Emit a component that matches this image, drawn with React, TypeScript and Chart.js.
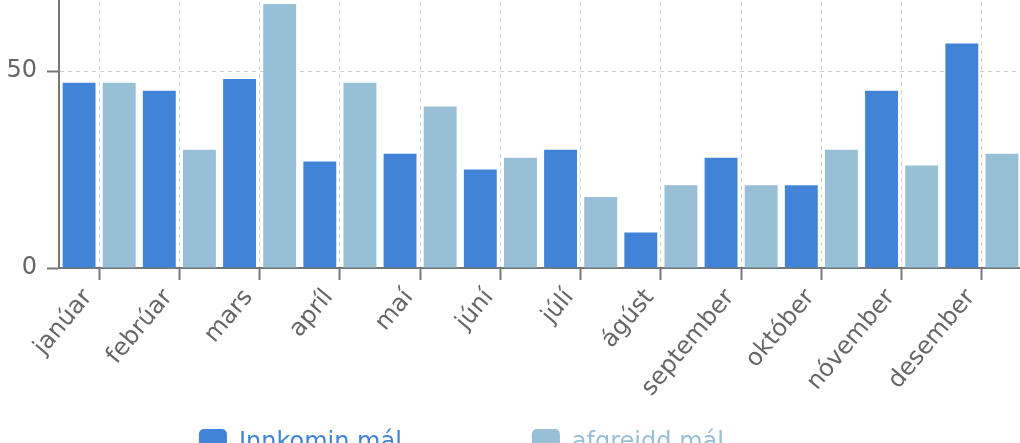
import React, { useEffect, useRef } from "react";
import { Chart, registerables } from "chart.js";

Chart.register(...registerables);

const months = [
  "janúar", "febrúar", "mars", "apríl", "maí", "júní",
  "júlí", "ágúst", "september", "október", "nóvember", "desember",
];
const incoming = [47, 45, 48, 27, 29, 25, 30, 9, 28, 21, 45, 57];
const resolved = [47, 30, 67, 47, 41, 28, 18, 21, 21, 30, 26, 29];
const seriesNames = ["Innkomin mál", "afgreidd mál"];
const seriesColors = ["#4183d7", "#97bfd6"];
const yMin = 0;
const yMax = 100;
const yStep = 50;

const FONT = "'DejaVu Sans', sans-serif";
const CANVAS_W = 1030;
const CANVAS_H = 623;
const CANVAS_TOP = -156;
const legendSpaces = [16, 13];

export default function App() {
  const ref = useRef<HTMLCanvasElement | null>(null);

  useEffect(() => {
    if (!ref.current) return;
    const chart = new Chart(ref.current, {
      type: "bar",
      data: {
        labels: months,
        datasets: [
          {
            label: seriesNames[0],
            data: incoming,
            backgroundColor: seriesColors[0],
            borderWidth: 0,
            categoryPercentage: 1,
            barPercentage: 0.82,
          },
          {
            label: seriesNames[1],
            data: resolved,
            backgroundColor: seriesColors[1],
            borderWidth: 0,
            categoryPercentage: 1,
            barPercentage: 0.82,
          },
        ],
      },
      options: {
        responsive: false,
        animation: false,
        devicePixelRatio: 1,
        layout: { padding: { top: 30, right: 8, left: 0, bottom: 0 } },
        plugins: {
          tooltip: { enabled: false },
          legend: {
            position: "bottom",
            align: "center",
            labels: {
              boxWidth: 28,
              boxHeight: 28,
              padding: 8,
              useBorderRadius: true,
              borderRadius: 5,
              font: { family: FONT, size: 24 },
              generateLabels: (c: any) =>
                c.data.datasets.map((ds: any, i: number) => ({
                  text: ds.label + " ".repeat(legendSpaces[i]),
                  fillStyle: ds.backgroundColor,
                  strokeStyle: ds.backgroundColor,
                  lineWidth: 0,
                  fontColor: ds.backgroundColor,
                  hidden: !c.isDatasetVisible(i),
                  datasetIndex: i,
                  borderRadius: 5,
                })),
            },
          },
        },
        scales: {
          x: {
            grid: {
              display: true,
              offset: false,
              color: "#cfcfcf",
              lineWidth: 1,
              tickLength: 12,
              tickColor: "#777777",
              tickWidth: 2,
            },
            border: { display: true, color: "#777777", width: 2, dash: [4, 4] },
            ticks: {
              autoSkip: false,
              minRotation: 50,
              maxRotation: 50,
              padding: 4,
              labelOffset: -11,
              color: "#666666",
              font: { family: FONT, size: 24 },
            },
            afterFit: (s: any) => {
              s.height = 153;
            },
          },
          y: {
            min: yMin,
            max: yMax,
            grid: {
              color: "#cfcfcf",
              lineWidth: 1,
              tickLength: 12,
              tickColor: "#777777",
              tickWidth: 2,
            },
            border: { display: true, color: "#777777", width: 2, dash: [4, 4] },
            ticks: {
              stepSize: yStep,
              padding: 10,
              color: "#666666",
              font: { family: FONT, size: 24 },
            },
            afterFit: (s: any) => {
              s.width = 59;
            },
          },
        },
      },
    });
    return () => chart.destroy();
  }, []);

  return (
    <div
      style={{
        position: "fixed",
        left: 0,
        top: 0,
        width: 1020,
        height: 443,
        overflow: "hidden",
        background: "#ffffff",
      }}
    >
      <canvas
        ref={ref}
        width={CANVAS_W}
        height={CANVAS_H}
        style={{
          position: "absolute",
          left: 0,
          top: CANVAS_TOP,
          width: CANVAS_W,
          height: CANVAS_H,
        }}
      />
    </div>
  );
}
